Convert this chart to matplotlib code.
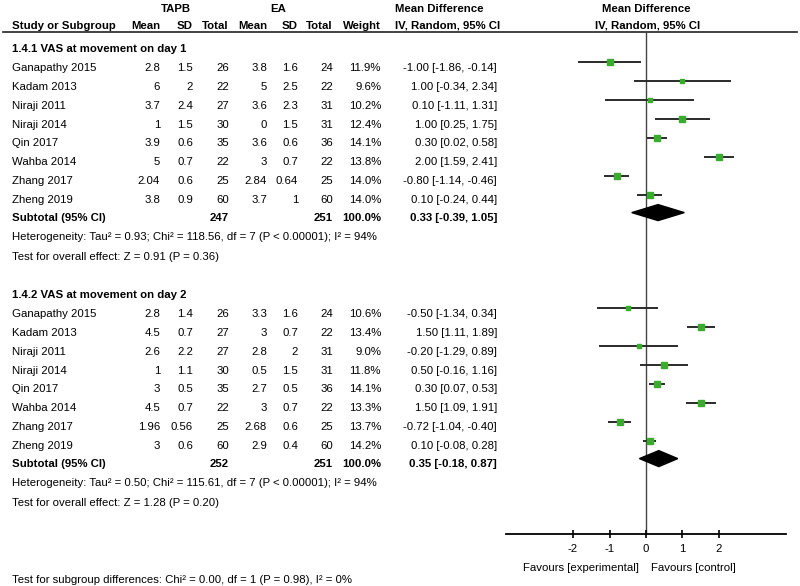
import numpy as np
import matplotlib
matplotlib.use("Agg")
import matplotlib.pyplot as plt
from matplotlib.patches import Polygon

plt.rcParams['font.family'] = ['Liberation Sans', 'DejaVu Sans']

# -----------------------------
# Data
# -----------------------------
studies = ["Ganapathy 2015", "Kadam 2013", "Niraji 2011", "Niraji 2014",
           "Qin 2017", "Wahba 2014", "Zhang 2017", "Zheng 2019"]

# 1.4.1 VAS at movement on day 1
d1_tapb_mean = [2.8, 6, 3.7, 1, 3.9, 5, 2.04, 3.8]
d1_tapb_sd = [1.5, 2, 2.4, 1.5, 0.6, 0.7, 0.6, 0.9]
d1_tapb_n = [26, 22, 27, 30, 35, 22, 25, 60]
d1_ea_mean = [3.8, 5, 3.6, 0, 3.6, 3, 2.84, 3.7]
d1_ea_sd = [1.6, 2.5, 2.3, 1.5, 0.6, 0.7, 0.64, 1]
d1_ea_n = [24, 22, 31, 31, 36, 22, 25, 60]
d1_weight = [11.9, 9.6, 10.2, 12.4, 14.1, 13.8, 14.0, 14.0]
d1_md = [-1.00, 1.00, 0.10, 1.00, 0.30, 2.00, -0.80, 0.10]
d1_lo = [-1.86, -0.34, -1.11, 0.25, 0.02, 1.59, -1.14, -0.24]
d1_hi = [-0.14, 2.34, 1.31, 1.75, 0.58, 2.41, -0.46, 0.44]
d1_total = (247, 251, 0.33, -0.39, 1.05)
d1_het = "Heterogeneity: Tau² = 0.93; Chi² = 118.56, df = 7 (P < 0.00001); I² = 94%"
d1_test = "Test for overall effect: Z = 0.91 (P = 0.36)"

# 1.4.2 VAS at movement on day 2
d2_tapb_mean = [2.8, 4.5, 2.6, 1, 3, 4.5, 1.96, 3]
d2_tapb_sd = [1.4, 0.7, 2.2, 1.1, 0.5, 0.7, 0.56, 0.6]
d2_tapb_n = [26, 27, 27, 30, 35, 22, 25, 60]
d2_ea_mean = [3.3, 3, 2.8, 0.5, 2.7, 3, 2.68, 2.9]
d2_ea_sd = [1.6, 0.7, 2, 1.5, 0.5, 0.7, 0.6, 0.4]
d2_ea_n = [24, 22, 31, 31, 36, 22, 25, 60]
d2_weight = [10.6, 13.4, 9.0, 11.8, 14.1, 13.3, 13.7, 14.2]
d2_md = [-0.50, 1.50, -0.20, 0.50, 0.30, 1.50, -0.72, 0.10]
d2_lo = [-1.34, 1.11, -1.29, -0.16, 0.07, 1.09, -1.04, -0.08]
d2_hi = [0.34, 1.89, 0.89, 1.16, 0.53, 1.91, -0.40, 0.28]
d2_total = (252, 251, 0.35, -0.18, 0.87)
d2_het = "Heterogeneity: Tau² = 0.50; Chi² = 115.61, df = 7 (P < 0.00001); I² = 94%"
d2_test = "Test for overall effect: Z = 1.28 (P = 0.20)"

subgroup_test = "Test for subgroup differences: Chi² = 0.00, df = 1 (P = 0.98), I² = 0%"
ticks = [-2, -1, 0, 1, 2]

# -----------------------------
# Layout (pixel positions)
# -----------------------------
W, H = 800, 586
FS = 8.2
col_x = [160, 193, 229, 267, 298, 333, 381]   # right edges of numeric columns
ci_x = 497
name_x = 12
row_h = 18.9
green = '#3aab2f'

fig = plt.figure(figsize=(W / 100, H / 100), dpi=100)
ax = fig.add_axes([0, 0, 1, 1])
ax.set_xlim(0, W)
ax.set_ylim(H, 0)
ax.axis('off')

# forest panel: axis line from x=506 to 786 px, top 32 px, bottom 534 px
fa = fig.add_axes([506 / W, (H - 534) / H, 280 / W, (534 - 32) / H])
fa.set_xlim(-3.836, 3.836)
fa.set_ylim(534, 32)
fa.patch.set_alpha(0)
for s in ['top', 'left', 'right']:
    fa.spines[s].set_visible(False)
fa.spines['bottom'].set_linewidth(1.3)
fa.set_yticks([])
fa.set_xticks(ticks)
fa.set_xticklabels([str(t) for t in ticks], fontsize=FS)
fa.tick_params(axis='x', direction='inout', length=6, width=1.2, pad=4)
fa.axvline(0, color='#444444', lw=1.0, zorder=1)

# header
ax.text(176, 8, "TAPB", ha='center', va='center_baseline', fontsize=FS, fontweight='bold')
ax.text(278, 8, "EA", ha='center', va='center_baseline', fontsize=FS, fontweight='bold')
ax.text(395, 8, "Mean Difference", ha='left', va='center_baseline', fontsize=FS, fontweight='bold')
ax.text(646, 8, "Mean Difference", ha='center', va='center_baseline', fontsize=FS, fontweight='bold')
ax.text(name_x, 25, "Study or Subgroup", ha='left', va='center_baseline', fontsize=FS, fontweight='bold')
for x, lab in zip(col_x, ["Mean", "SD", "Total", "Mean", "SD", "Total", "Weight"]):
    ax.text(x, 25, lab, ha='right', va='center_baseline', fontsize=FS, fontweight='bold')
ax.text(395, 25, "IV, Random, 95% CI", ha='left', va='center_baseline', fontsize=FS, fontweight='bold')
ax.text(648, 25, "IV, Random, 95% CI", ha='center', va='center_baseline', fontsize=FS, fontweight='bold')
ax.plot([3, 797], [32, 32], color='#222222', lw=1.2)


def fmt(v):
    return f"{v:g}"


def draw_group(y0, title, tm, ts, tn, em, es, en, wt, md, lo, hi, total, het, test):
    ax.text(name_x, y0, title, ha='left', va='center_baseline', fontsize=FS, fontweight='bold')
    for i, name in enumerate(studies):
        y = y0 + row_h * (i + 1)
        vals = [fmt(tm[i]), fmt(ts[i]), str(tn[i]), fmt(em[i]), fmt(es[i]),
                str(en[i]), f"{wt[i]:.1f}%"]
        ax.text(name_x, y, name, ha='left', va='center_baseline', fontsize=FS)
        for x, v in zip(col_x, vals):
            ax.text(x, y, v, ha='right', va='center_baseline', fontsize=FS)
        ax.text(ci_x, y, f"{md[i]:.2f} [{lo[i]:.2f}, {hi[i]:.2f}]",
                ha='right', va='center_baseline', fontsize=FS)
        ym = y - 4.5
        fa.plot([lo[i], hi[i]], [ym, ym], color='#2b2b2b', lw=1.4, zorder=2,
                solid_capstyle='butt')
        fa.plot(md[i], ym, marker='s', ms=4.0 * np.sqrt(wt[i] / 14.0),
                color=green, mec=green, zorder=3)
    ys = y0 + row_h * 9 - 1
    nt, ne, est, tlo, thi = total
    ax.text(name_x, ys, "Subtotal (95% CI)", ha='left', va='center_baseline',
            fontsize=FS, fontweight='bold')
    ax.text(col_x[2], ys, str(nt), ha='right', va='center_baseline', fontsize=FS, fontweight='bold')
    ax.text(col_x[5], ys, str(ne), ha='right', va='center_baseline', fontsize=FS, fontweight='bold')
    ax.text(col_x[6], ys, "100.0%", ha='right', va='center_baseline', fontsize=FS, fontweight='bold')
    ax.text(ci_x, ys, f"{est:.2f} [{tlo:.2f}, {thi:.2f}]", ha='right',
            va='center_baseline', fontsize=FS, fontweight='bold')
    yd = ys - 4.5
    fa.add_patch(Polygon([(tlo, yd), (est, yd - 8), (thi, yd), (est, yd + 8)],
                         closed=True, color='black', zorder=3))
    ax.text(name_x, ys + 19, het, ha='left', va='center_baseline', fontsize=FS)
    ax.text(name_x, ys + 39, test, ha='left', va='center_baseline', fontsize=FS)


draw_group(48, "1.4.1 VAS at movement on day 1", d1_tapb_mean, d1_tapb_sd, d1_tapb_n,
           d1_ea_mean, d1_ea_sd, d1_ea_n, d1_weight, d1_md, d1_lo, d1_hi,
           d1_total, d1_het, d1_test)
draw_group(294, "1.4.2 VAS at movement on day 2", d2_tapb_mean, d2_tapb_sd, d2_tapb_n,
           d2_ea_mean, d2_ea_sd, d2_ea_n, d2_weight, d2_md, d2_lo, d2_hi,
           d2_total, d2_het, d2_test)

ax.text(639, 567, "Favours [experimental]", ha='right', va='center_baseline', fontsize=FS)
ax.text(651, 567, "Favours [control]", ha='left', va='center_baseline', fontsize=FS)
ax.text(name_x, 579, subgroup_test, ha='left', va='center_baseline', fontsize=FS)

fig.savefig("out.png", dpi=100)
